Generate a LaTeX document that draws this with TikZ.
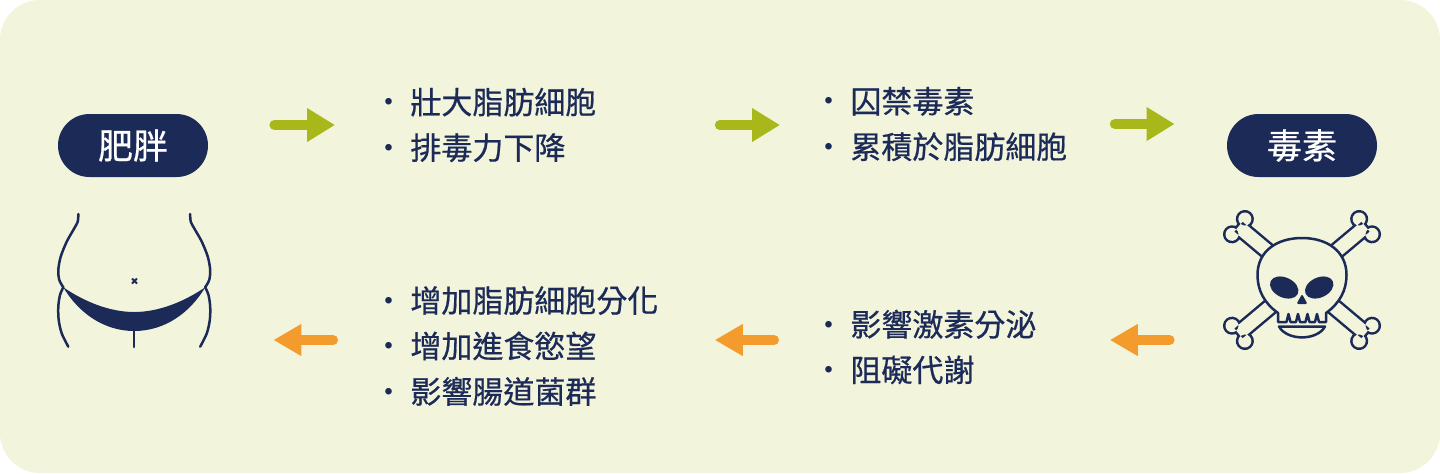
\documentclass[tikz,border=0pt]{standalone}
\usepackage{fontspec}
\setmainfont{Noto Sans CJK TC}
\newfontfamily\medfont{Noto Sans CJK TC}[FakeBold=0.6]
\usetikzlibrary{arrows.meta, shapes.misc, calc}
\definecolor{bgcream}{RGB}{242,244,220}
\definecolor{navy}{RGB}{27,42,87}
\definecolor{olive}{RGB}{168,184,26}
\definecolor{amber}{RGB}{243,155,44}
\newcommand{\dotitem}{\makebox[14pt][l]{\hspace{-4.5pt}\rmfamily ·}}
\begin{document}
\begin{tikzpicture}[x=0.5pt, y=-0.5pt,
	pill/.style={rounded rectangle, fill=navy, text=white, inner sep=0pt,
		minimum width=75pt, minimum height=31.5pt,
		font=\medfont\fontsize{17.5pt}{20pt}\selectfont},
	items/.style={anchor=west, inner sep=0pt, text width=140pt, align=left,
		text=navy, font=\medfont\fontsize{15.5pt}{22.75pt}\selectfont},
	grnarr/.style={olive, line width=5pt, line cap=round,
		-{Triangle[length=14pt, width=16pt]}},
	orgarr/.style={amber, line width=5pt, line cap=round,
		-{Triangle[length=14pt, width=15pt]}},
	icon/.style={navy, line width=1.25pt, line cap=round, line join=round}]
	\fill[white] (0,0) rectangle (1440,473);
	\fill[bgcream, rounded corners=20pt] (0,0) rectangle (1440,473);

	\node[pill] (obesity) at (133,145.5) {肥胖};
	\node[pill] (toxin) at (1302,145.5) {毒素};
	\node[items] (effA) at (382,125) {\dotitem 壯大脂肪細胞\\ \dotitem 排毒力下降};
	\node[items] (effB) at (822,124) {\dotitem 囚禁毒素\\ \dotitem 累積於脂肪細胞};
	\node[items] (effC) at (382,346)
		{\dotitem 增加脂肪細胞分化\\ \dotitem 增加進食慾望\\ \dotitem 影響腸道菌群};
	\node[items] (effD) at (822,347) {\dotitem 影響激素分泌\\ \dotitem 阻礙代謝};
	\node[minimum width=85pt, minimum height=70pt] (belly) at (134,281) {};
	\node[minimum width=85pt, minimum height=72pt] (skull) at (1302,282) {};

	\draw[grnarr, shorten <=33pt, shorten >=23.5pt] (obesity.east |- effA.west) -- (effA.west);
	\draw[grnarr, shorten <=28.5pt, shorten >=21pt] (effA.east) -- (effA.east -| effB.west);
	\draw[grnarr, shorten <=6pt, shorten >=26pt] (effB.east) -- (effB.east -| toxin.west);
	\draw[orgarr, shorten <=23.5pt, shorten >=3.5pt]
		($(skull.west |- effD.east)+(0,3.5pt)$) -- ($(effD.east)+(0,3.5pt)$);
	\draw[orgarr, shorten <=24pt, shorten >=26pt]
		($(effD.west)+(0,3.5pt)$) -- ($(effD.west -| effC.east)+(0,3.5pt)$);
	\draw[orgarr, shorten <=24.5pt, shorten >=27pt]
		($(effC.west)+(0,3pt)$) -- ($(effC.west -| belly.east)+(0,3pt)$);

	\draw[icon] plot[smooth] coordinates {(78.3,214) (77.7,221.7) (73.3,230) (66.7,241.7)
		(60.7,256.7) (58.3,270) (59.3,280) (63.3,287.3)};
	\draw[icon] plot[smooth] coordinates {(190.2,214) (190.8,221.7) (195.2,230) (201.8,241.7)
		(207.8,256.7) (210.2,270) (209.2,280) (205.2,287.3)};
	\draw[icon] plot[smooth] coordinates {(63.3,287.3) (60,295) (58.3,306.7) (58.7,320)
		(61.7,333.3) (68.3,346.7)};
	\draw[icon] plot[smooth] coordinates {(205.2,287.3) (208.5,295) (210.2,306.7) (209.8,320)
		(206.8,333.3) (200.2,346.7)};
	\fill[navy] (63.3,287.3) .. controls (85,302) and (110,312) .. (134.2,312)
		.. controls (158.5,312) and (183.5,302) .. (205.2,287.3)
		.. controls (190.5,312) and (165.5,331) .. (134.2,331)
		.. controls (103,331) and (78,312) .. cycle;
	\draw[icon] (134.2,331) -- (134.2,347);
	\draw[navy, line width=0.9pt] (132,278.5) -- (137,283.5) (132,283.5) -- (137,278.5);

	\foreach \ang in {-40,40} {
		\begin{scope}[shift={(1302,280)}, rotate=\ang]
			\path[fill=navy, draw=navy, line width=2.5pt] (-83,-6.5) rectangle (83,6.5)
				(-83,-10) circle (6.5) (-83,10) circle (6.5)
				(83,-10) circle (6.5) (83,10) circle (6.5);
		\end{scope}
	}
	\foreach \ang in {-40,40} {
		\begin{scope}[shift={(1302,280)}, rotate=\ang]
			\fill[bgcream] (-83,-6.5) rectangle (83,6.5)
				(-83,-10) circle (6.5) (-83,10) circle (6.5)
				(83,-10) circle (6.5) (83,10) circle (6.5);
		\end{scope}
	}
	\filldraw[icon, fill=bgcream] (1278,322) -- (1278,313)
		.. controls (1264,303) and (1257.5,290) .. (1257.5,275)
		.. controls (1257.5,251) and (1277,238) .. (1302,238)
		.. controls (1327,238) and (1346.5,251) .. (1346.5,275)
		.. controls (1346.5,290) and (1340,303) .. (1326,313) -- (1326,322)
		-- (1319,322) -- (1317,314) -- (1315,322) -- (1309.5,322) -- (1307.5,314)
		-- (1305.5,322) -- (1300,322) -- (1298,314) -- (1296,322) -- (1290.5,322)
		-- (1288.5,314) -- (1286.5,322) -- cycle;
	\filldraw[icon, fill=bgcream] (1279,326.5) -- (1325,326.5)
		.. controls (1317,341) and (1287,341) .. cycle;
	\fill[navy, rotate around={-25:(1284.2,287.5)}] (1284.2,287.5) ellipse (15 and 10);
	\fill[navy, rotate around={25:(1319.2,287.5)}] (1319.2,287.5) ellipse (15 and 10);
	\fill[navy, rounded corners=1pt] (1302,294) -- (1307.5,304) -- (1296.5,304) -- cycle;
\end{tikzpicture}
\end{document}
